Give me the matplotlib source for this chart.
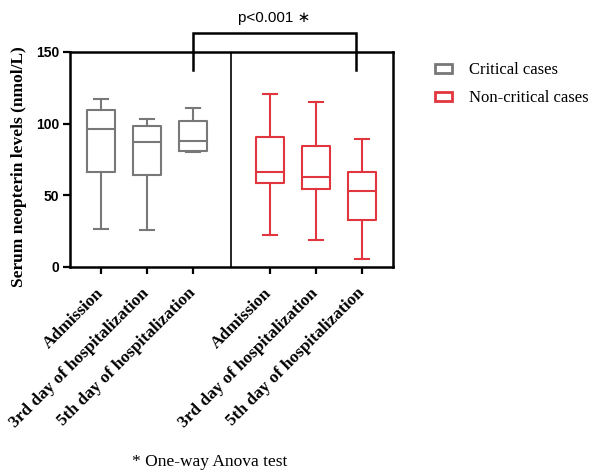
import matplotlib
matplotlib.use("Agg")
import matplotlib.pyplot as plt
from matplotlib.patches import Rectangle

# Serum neopterin (nmol/L) box summaries per group and time point
timepoints = ["Admission", "3rd day of hospitalization", "5th day of hospitalization"]
groups = ["Critical cases", "Non-critical cases"]

crit_whislo = [26.7, 25.8, 80.5]
crit_q1 = [66.5, 64.4, 81.0]
crit_med = [96.0, 87.0, 88.0]
crit_q3 = [109.6, 98.6, 102.0]
crit_whishi = [117.0, 103.0, 110.7]

noncrit_whislo = [22.1, 18.8, 5.3]
noncrit_q1 = [58.6, 54.4, 32.8]
noncrit_med = [66.0, 63.0, 53.3]
noncrit_q3 = [90.6, 84.7, 66.5]
noncrit_whishi = [120.5, 115.4, 89.6]

p_label = "p<0.001 \u2217"
footnote = "* One-way Anova test"

GREY = "#787878"
RED = "#e2363f"

serif = ["Liberation Serif", "DejaVu Serif"]
sans = ["Liberation Sans", "DejaVu Sans"]

fig = plt.figure(figsize=(5.95, 4.73), dpi=100)
ax = fig.add_axes([70 / 595, 1 - 267 / 473, (393 - 70) / 595, (267 - 52) / 473])

pos_crit = [1.0, 2.0, 3.0]
pos_non = [4.67, 5.67, 6.67]


def stats(lo, q1, med, q3, hi):
    return [dict(whislo=a, q1=b, med=c, q3=d, whishi=e, fliers=[])
            for a, b, c, d, e in zip(lo, q1, med, q3, hi)]


def draw(st, positions, color):
    lw = 1.5
    ax.bxp(st, positions=positions, widths=0.61, showfliers=False,
           boxprops=dict(color=color, linewidth=lw),
           medianprops=dict(color=color, linewidth=lw),
           whiskerprops=dict(color=color, linewidth=lw),
           capprops=dict(color=color, linewidth=lw),
           capwidths=0.3, manage_ticks=False)


draw(stats(crit_whislo, crit_q1, crit_med, crit_q3, crit_whishi), pos_crit, GREY)
draw(stats(noncrit_whislo, noncrit_q1, noncrit_med, noncrit_q3, noncrit_whishi), pos_non, RED)

ax.set_xlim(0.33, 7.35)
ax.set_ylim(0, 150)
ax.set_yticks([0, 50, 100, 150])
ax.set_xticks(pos_crit + pos_non)
ax.set_xticklabels(timepoints + timepoints, rotation=45, ha="right", va="center",
                   rotation_mode="anchor", family=serif, weight="bold", fontsize=12.5)
for lbl in ax.get_yticklabels():
    lbl.set_family(sans)
    lbl.set_weight("bold")
    lbl.set_fontsize(10)
ax.tick_params(axis="both", direction="out", length=5, width=1.6, color="black")
ax.tick_params(axis="x", pad=12)
ax.tick_params(axis="y", pad=3)
for s in ax.spines.values():
    s.set_linewidth(1.8)
    s.set_color("black")

# Divider between the two groups
ax.axvline((pos_crit[-1] + pos_non[0]) / 2, color="black", lw=1.2)

ax.set_ylabel("Serum neopterin levels (nmol/L)", family=serif, weight="bold",
              fontsize=12.5)
ax.yaxis.set_label_coords(-0.132, 0.465)

# Significance bracket above the 5th-day boxes
x_left = pos_crit[-1]
x_right = pos_non[-1] - 0.12
y_top, y_leg = 163.5, 137.5
ax.plot([x_left, x_left, x_right, x_right], [y_leg, y_top, y_top, y_leg],
        color="black", lw=1.8, clip_on=False, solid_joinstyle="miter")
ax.text((x_left + x_right) / 2, 174, p_label, ha="center", va="center",
        family=sans, fontsize=11)

# Legend with hollow box swatches
handles = [Rectangle((0, 0), 1, 1, facecolor="white", edgecolor=GREY, linewidth=2),
           Rectangle((0, 0), 1, 1, facecolor="white", edgecolor=RED, linewidth=2)]
fig.legend(handles, groups, loc="upper left", bbox_to_anchor=(420 / 595, 1 - 47 / 473),
           frameon=False, prop=dict(family=serif, size=12),
           handlelength=1.0, handleheight=0.45, handletextpad=1.05, labelspacing=0.75)

fig.text(210 / 595, 1 - 462 / 473, footnote, ha="center", va="center",
         family=serif, fontsize=12.5)

fig.savefig("out.png", dpi=100, facecolor="white")
